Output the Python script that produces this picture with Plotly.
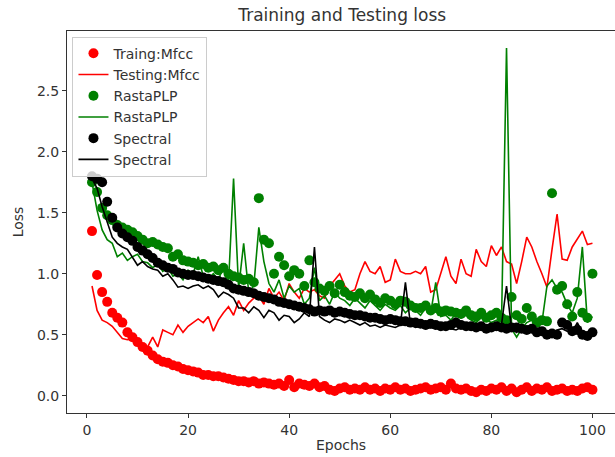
import plotly.graph_objects as go

epochs = list(range(1, 101))

train_mfcc = [
    1.35, 0.99, 0.85, 0.77, 0.68, 0.64, 0.60, 0.52, 0.48, 0.44,
    0.40, 0.37, 0.33, 0.30, 0.28, 0.27, 0.25, 0.24, 0.22, 0.21,
    0.20, 0.19, 0.17, 0.17, 0.16, 0.16, 0.15, 0.14, 0.13, 0.12,
    0.12, 0.11, 0.12, 0.10, 0.11, 0.10, 0.09, 0.10, 0.08, 0.13,
    0.07, 0.10, 0.09, 0.08, 0.10, 0.07, 0.08, 0.05, 0.04, 0.06,
    0.07, 0.05, 0.06, 0.05, 0.07, 0.05, 0.06, 0.04, 0.06, 0.05,
    0.07, 0.05, 0.06, 0.04, 0.05, 0.06, 0.07, 0.05, 0.06, 0.07,
    0.05, 0.10, 0.06, 0.05, 0.06, 0.04, 0.03, 0.05, 0.04, 0.06,
    0.05, 0.07, 0.04, 0.06, 0.03, 0.05, 0.07, 0.04, 0.06, 0.05,
    0.07, 0.04, 0.05, 0.06, 0.04, 0.05, 0.04, 0.06, 0.07, 0.05,
]

test_mfcc = [
    0.90, 0.70, 0.62, 0.60, 0.57, 0.52, 0.47, 0.46, 0.47, 0.45,
    0.42, 0.40, 0.48, 0.40, 0.54, 0.52, 0.50, 0.58, 0.52, 0.57,
    0.60, 0.63, 0.60, 0.65, 0.53, 0.62, 0.68, 0.73, 0.66, 0.78,
    0.70, 0.76, 0.80, 0.82, 0.75, 0.88, 0.80, 0.85, 0.78, 0.92,
    0.85, 0.80, 0.88, 0.85, 0.87, 0.82, 0.80, 0.90, 0.95, 1.00,
    0.90, 0.85, 0.87, 1.00, 1.10, 1.02, 1.00, 1.06, 0.93, 0.95,
    1.12, 1.02, 1.00, 1.00, 1.02, 1.00, 1.06, 0.85, 0.87, 1.00,
    1.14, 0.98, 0.92, 1.12, 1.00, 0.98, 1.20, 1.10, 1.06, 1.23,
    1.15, 1.22, 1.10, 1.08, 0.92, 1.10, 1.30, 1.22, 1.10, 1.00,
    0.89, 1.20, 1.49, 1.12, 1.11, 1.22, 1.28, 1.35, 1.24, 1.25,
]

train_rasta = [
    1.75, 1.67, 1.54, 1.48, 1.44, 1.40, 1.38, 1.36, 1.34, 1.31,
    1.28, 1.25, 1.26, 1.24, 1.22, 1.21, 1.14, 1.16, 1.11, 1.10,
    1.09, 1.07, 1.08, 1.05, 1.06, 1.03, 1.05, 1.00, 0.98, 0.97,
    0.95, 0.96, 0.93, 1.62, 1.28, 1.25, 1.00, 1.14, 1.07, 0.98,
    1.03, 1.00, 0.90, 1.11, 0.93, 0.88, 0.86, 0.90, 0.84, 0.91,
    0.85, 0.82, 0.81, 0.84, 0.80, 0.83, 0.79, 0.76, 0.80, 0.78,
    0.75, 0.78, 0.77, 0.74, 0.72, 0.72, 0.74, 0.70, 0.72, 0.69,
    0.70, 0.69, 0.68, 0.67, 0.70, 0.66, 0.65, 0.68, 0.64, 0.66,
    0.68, 0.64, 0.62, 0.81, 0.66, 0.63, 0.72, 0.65, 0.60, 0.62,
    0.61, 1.66, 0.87, 0.90, 0.75, 0.65, 0.85, 0.68, 0.64, 1.00,
]

test_rasta = [
    1.75, 1.52, 1.36, 1.28, 1.25, 1.14, 1.17, 1.11, 1.14, 1.16,
    1.10, 1.09, 1.05, 1.08, 1.02, 1.05, 0.98, 1.00, 0.95, 1.03,
    1.00, 1.14, 0.98, 0.96, 1.00, 0.95, 1.06, 0.92, 1.78, 0.88,
    1.25, 0.85, 0.90, 1.38, 1.10, 0.92, 0.85, 0.95, 0.80, 0.90,
    0.85, 0.88, 0.75, 0.80, 1.05, 0.78, 0.82, 0.75, 0.85, 0.80,
    0.78, 0.74, 0.80, 0.76, 0.72, 0.78, 0.74, 0.70, 0.75, 0.72,
    0.70, 0.74, 0.68, 0.72, 0.70, 0.66, 0.72, 0.68, 0.93, 0.65,
    0.66, 0.62, 0.68, 0.64, 0.66, 0.62, 0.60, 0.64, 0.62, 0.60,
    0.62, 0.58, 2.85, 0.55, 0.48, 0.55, 0.60, 0.62, 0.58, 0.60,
    0.90, 0.95, 0.88, 0.85, 0.75, 0.68, 0.80, 1.22, 0.60, 0.65,
]

train_spec = [
    1.80, 1.78, 1.75, 1.59, 1.46, 1.38, 1.33, 1.30, 1.27, 1.22,
    1.19, 1.16, 1.13, 1.09, 1.07, 1.05, 1.04, 1.01, 1.00, 0.99,
    0.99, 0.98, 0.97, 0.96, 0.95, 0.94, 0.93, 0.91, 0.88, 0.87,
    0.86, 0.85, 0.84, 0.82, 0.81, 0.80, 0.79, 0.77, 0.76, 0.75,
    0.74, 0.73, 0.72, 0.71, 0.69, 0.70, 0.69, 0.70, 0.68, 0.69,
    0.68, 0.67, 0.66, 0.66, 0.65, 0.64, 0.64, 0.63, 0.62, 0.63,
    0.62, 0.61, 0.61, 0.60, 0.60, 0.59, 0.58, 0.59, 0.58, 0.57,
    0.57, 0.58, 0.60, 0.58, 0.57, 0.57, 0.56, 0.57, 0.55, 0.56,
    0.57, 0.56, 0.55, 0.56, 0.56, 0.55, 0.54, 0.55, 0.52, 0.53,
    0.50, 0.51, 0.50, 0.60, 0.58, 0.53, 0.54, 0.50, 0.49, 0.52,
]

test_spec = [
    1.78, 1.70, 1.55, 1.42, 1.30, 1.25, 1.22, 1.20, 1.14, 1.07,
    1.10, 1.06, 1.04, 1.03, 0.98, 1.00, 0.95, 0.89, 0.90, 0.88,
    0.90, 0.91, 0.88, 0.90, 0.87, 0.81, 0.85, 0.83, 0.80, 0.72,
    0.72, 0.68, 0.73, 0.70, 0.64, 0.70, 0.68, 0.62, 0.66, 0.65,
    0.60, 0.63, 0.68, 0.65, 1.22, 0.65, 0.62, 0.60, 0.63, 0.62,
    0.60, 0.62, 0.60, 0.58, 0.60, 0.57, 0.58, 0.56, 0.58, 0.57,
    0.56, 0.58, 0.93, 0.58, 0.56, 0.57, 0.55, 0.56, 0.55, 0.57,
    0.56, 0.55, 0.54, 0.56, 0.55, 0.54, 0.56, 0.55, 0.53, 0.54,
    0.55, 0.58, 0.90, 0.55, 0.52, 0.56, 0.54, 0.55, 0.52, 0.54,
    0.53, 0.52, 0.54, 0.55, 0.53, 0.52, 0.60, 0.52, 0.50, 0.52,
]

x_ticks = [0, 20, 40, 60, 80, 100]
y_ticks = [0.0, 0.5, 1.0, 1.5, 2.0, 2.5]

FONT = "DejaVu Sans"
TXT = "#333333"
FS = 14
MS = 10
LW = 1.6

fig = go.Figure()
fig.add_trace(go.Scatter(x=epochs, y=train_mfcc, mode="markers", name="Traing:Mfcc",
                         marker=dict(color="red", size=MS)))
fig.add_trace(go.Scatter(x=epochs, y=test_mfcc, mode="lines", name="Testing:Mfcc",
                         line=dict(color="red", width=LW)))
fig.add_trace(go.Scatter(x=epochs, y=train_rasta, mode="markers", name="RastaPLP",
                         marker=dict(color="green", size=MS)))
fig.add_trace(go.Scatter(x=epochs, y=test_rasta, mode="lines", name="RastaPLP",
                         line=dict(color="green", width=LW)))
fig.add_trace(go.Scatter(x=epochs, y=train_spec, mode="markers", name="Spectral",
                         marker=dict(color="black", size=MS)))
fig.add_trace(go.Scatter(x=epochs, y=test_spec, mode="lines", name="Spectral",
                         line=dict(color="black", width=LW)))

fig.update_layout(
    width=615, height=457,
    margin=dict(l=67, r=0, t=31, b=44),
    paper_bgcolor="white", plot_bgcolor="white",
    font=dict(family=FONT, size=FS, color=TXT),
    title=dict(text="Training and Testing loss", x=0.5565, xanchor="center",
               y=1 - 15 / 457, yanchor="middle", font=dict(size=17, color=TXT)),
    showlegend=True,
    legend=dict(x=0.01, y=0.985, xanchor="left", yanchor="top",
                bgcolor="rgba(255,255,255,0.8)", bordercolor="#cccccc", borderwidth=1,
                font=dict(size=FS, color=TXT), itemwidth=30, tracegroupgap=0),
)
fig.update_xaxes(range=[-3.95, 104.46], tickvals=x_ticks, ticktext=[str(v) for v in x_ticks],
                 showgrid=False, zeroline=False, showline=True, linecolor="#333333", linewidth=1,
                 mirror=True, ticks="outside", ticklen=4, tickcolor="#333333",
                 tickfont=dict(size=FS),
                 title=dict(text="Epochs", standoff=3, font=dict(size=FS, color=TXT)))
fig.update_yaxes(range=[-0.141, 2.99], tickvals=y_ticks, ticktext=[f"{v:.1f}" for v in y_ticks],
                 showgrid=False, zeroline=False, showline=True, linecolor="#333333", linewidth=1,
                 mirror=False, ticks="outside", ticklen=4, tickcolor="#333333",
                 tickfont=dict(size=FS),
                 title=dict(text="Loss", standoff=10, font=dict(size=FS, color=TXT)))

fig.write_html("out.html", config={"displayModeBar": False},
               post_script="document.body.style.margin='0px';document.body.style.overflow='hidden';")
